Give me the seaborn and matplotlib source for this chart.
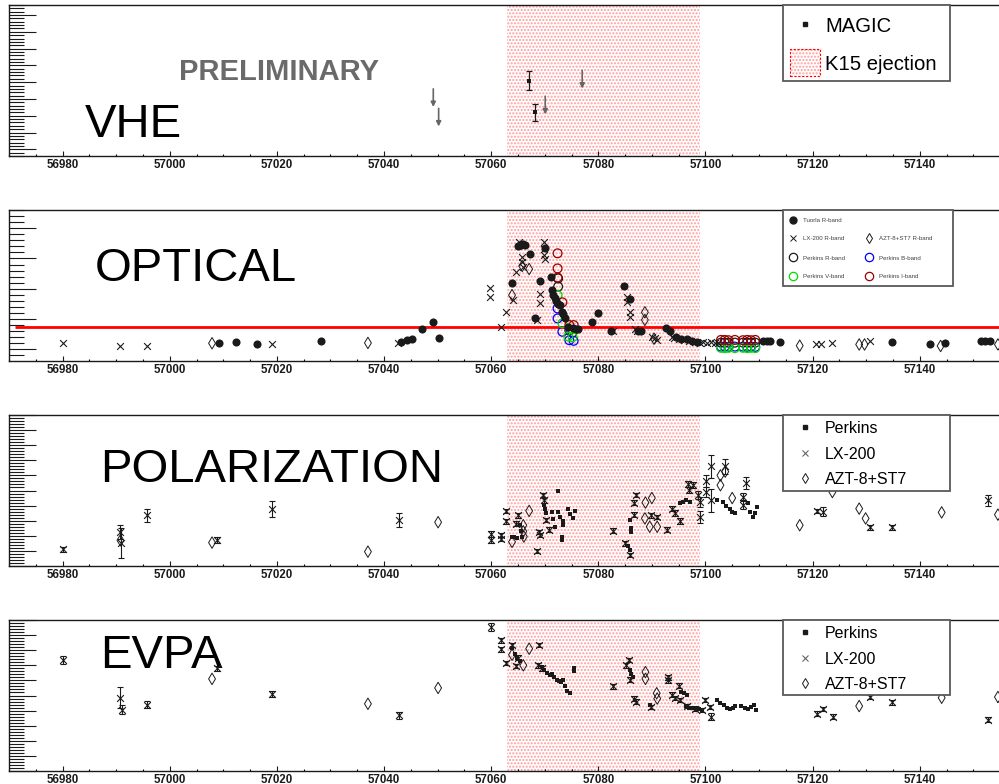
import numpy as np
import matplotlib
matplotlib.use("Agg")
import matplotlib.pyplot as plt
import seaborn as sns
from matplotlib.patches import Rectangle
from matplotlib.lines import Line2D
from matplotlib.ticker import MultipleLocator

sns.set_theme(style="white")
plt.rcParams['font.family'] = ['Liberation Sans', 'DejaVu Sans']
plt.rcParams['hatch.linewidth'] = 1.0
plt.rcParams['text.color'] = 'black'
plt.rcParams['xtick.color'] = 'black'
plt.rcParams['ytick.color'] = 'black'
plt.rcParams['axes.edgecolor'] = 'black'

# ---------------- data ----------------
XMIN, XMAX = 56970, 57154.8
XTICKS = [56980, 57000, 57020, 57040, 57060, 57080, 57100, 57120, 57140]
K15_START, K15_END = 57063, 57099

# VHE (MAGIC)
magic_mjd = [57067.1, 57068.2]
magic_flux = [4.1, 2.2]
magic_err = [0.57, 0.52]
ul_mjd = [57049.2, 57050.2, 57070.1, 57077.0]
ul_flux = [3.6, 2.44, 3.16, 4.7]

# OPTICAL
tuorla_mjd = [57009.2, 57012.3, 57016.3, 57028.2, 57043.1, 57044.2, 57045.2, 57047.1, 57049.2, 57050.2,
              57063.9, 57065.0, 57065.3, 57065.6, 57066.0, 57066.3, 57067.2, 57068.1, 57069.2, 57070.0,
              57071.1, 57071.4, 57071.6, 57071.9, 57072.2, 57072.5, 57072.8, 57073.2, 57073.5, 57073.7,
              57074.3, 57075.3, 57075.8, 57076.3, 57078.9, 57080.0, 57082.3, 57084.8, 57085.9, 57087.5,
              57088.0, 57092.7, 57093.3, 57094.5, 57095.5, 57096.5, 57097.5, 57098.5, 57110.8, 57111.4,
              57112.0, 57113.9, 57134.9, 57141.9, 57144.8, 57151.5, 57152.2, 57153.1]
tuorla_flux = [0.20, 0.25, 0.16, 0.28, 0.25, 0.31, 0.34, 0.66, 0.91, 0.36,
               2.18, 3.40, 3.45, 3.44, 3.47, 3.45, 3.14, 1.04, 2.26, 3.33,
               2.40, 1.95, 1.80, 1.70, 1.60, 1.50, 1.46, 1.24, 1.15, 1.05,
               0.75, 0.72, 0.68, 0.66, 0.91, 1.19, 0.60, 2.10, 1.66, 0.62,
               0.60, 0.69, 0.60, 0.42, 0.35, 0.33, 0.28, 0.25, 0.27, 0.28,
               0.28, 0.23, 0.25, 0.16, 0.20, 0.27, 0.28, 0.27]

lx_opt_mjd = [56980.0, 56990.8, 56995.8, 57019.1, 57042.7, 57059.7, 57059.8, 57061.9, 57062.7, 57064.0,
              57064.7, 57065.2, 57065.8, 57065.8, 57065.9, 57068.6, 57069.1, 57069.1, 57069.8, 57069.8,
              57069.9, 57070.0, 57082.8, 57085.3, 57085.3, 57085.9, 57085.9, 57086.8, 57087.2, 57090.0,
              57090.5, 57091.0, 57093.8, 57094.2, 57095.0, 57096.0, 57097.0, 57098.0, 57099.0, 57099.5,
              57100.3, 57101.0, 57101.8, 57102.4, 57120.7, 57121.5, 57123.7, 57130.7]
lx_opt_flux = [0.20, 0.12, 0.11, 0.16, 0.22, 2.01, 1.72, 0.75, 1.24, 1.63,
               2.54, 3.55, 3.06, 2.89, 2.73, 0.97, 1.81, 1.52, 3.55, 3.30,
               3.10, 2.98, 0.62, 1.74, 1.57, 1.24, 1.08, 0.66, 0.60, 0.42,
               0.36, 0.31, 0.42, 0.38, 0.33, 0.30, 0.27, 0.24, 0.22, 0.25,
               0.22, 0.24, 0.20, 0.22, 0.16, 0.16, 0.20, 0.29]

azt_opt_mjd = [57007.9, 57037.0, 57063.9, 57065.8, 57067.1, 57088.7, 57088.7, 57090.4, 57117.6, 57128.7,
               57129.7, 57143.9, 57154.6]
azt_opt_flux = [0.20, 0.21, 1.79, 2.75, 2.65, 1.22, 0.97, 0.35, 0.12, 0.16,
                0.16, 0.11, 0.16]

perk_R_mjd = [57072.5, 57072.5, 57074.6, 57075.2, 57102.9, 57103.6, 57104.3, 57105.5, 57107.0, 57107.8, 57108.5, 57109.3]
perk_R_flux = [2.34, 2.07, 0.62, 0.55, 0.22, 0.22, 0.22, 0.22, 0.22, 0.22, 0.22, 0.22]
perk_B_mjd = [57072.4, 57072.4, 57073.3, 57074.6, 57075.4, 57102.9, 57103.6, 57104.3, 57105.5, 57107.0, 57107.8, 57108.5, 57109.3]
perk_B_flux = [1.35, 1.02, 0.58, 0.30, 0.28, 0.09, 0.09, 0.08, 0.09, 0.09, 0.08, 0.09, 0.08]
perk_V_mjd = [57072.4, 57073.3, 57074.4, 57075.2, 57102.9, 57103.6, 57104.3, 57105.5, 57107.0, 57107.8, 57108.5, 57109.3]
perk_V_flux = [1.79, 0.86, 0.42, 0.40, 0.05, 0.04, 0.05, 0.04, 0.05, 0.04, 0.05, 0.04]
perk_I_mjd = [57072.4, 57072.4, 57072.4, 57073.3, 57074.6, 57075.4, 57102.9, 57103.6, 57104.3, 57105.5, 57107.0, 57107.8, 57108.5, 57109.3]
perk_I_flux = [3.17, 2.67, 2.37, 1.55, 0.80, 0.80, 0.31, 0.31, 0.30, 0.31, 0.30, 0.31, 0.30, 0.31]

OPT_LEVEL = 0.746
OPT_LINE_START = 56971.1

# POLARIZATION (%)
perk_pol_mjd = [57063.9, 57064.3, 57064.9, 57065.3, 57065.5, 57065.8, 57069.8, 57070.0, 57070.3, 57071.3,
                57071.6, 57071.9, 57072.4, 57072.5, 57072.8, 57073.3, 57073.3, 57073.4, 57073.5, 57074.4,
                57074.8, 57075.2, 57075.6, 57085.6, 57086.0, 57086.0, 57086.1, 57086.2, 57095.2, 57095.8,
                57096.4, 57097.1, 57102.2, 57103.3, 57103.9, 57104.5, 57105.0, 57105.5, 57108.0, 57108.4,
                57108.8, 57109.2, 57109.6]
perk_pol = [3.9, 3.8, 3.7, 5.4, 4.6, 3.9, 8.1, 7.5, 7.0, 7.2,
            6.2, 5.2, 9.9, 7.2, 6.5, 3.9, 3.4, 5.9, 5.4, 7.6,
            6.9, 6.3, 7.3, 2.6, 2.1, 6.1, 5.0, 4.5, 8.3, 8.5,
            8.7, 8.5, 8.7, 8.5, 7.9, 7.5, 7.2, 7.0, 8.3, 7.2,
            6.5, 7.0, 7.8]

lx_pol_mjd = [56980.0, 56990.8, 56990.9, 56995.8, 57008.9, 57019.1, 57042.8, 57059.9, 57060.0, 57061.9,
              57061.9, 57062.7, 57062.7, 57064.7, 57065.0, 57068.6, 57069.0, 57069.1, 57069.7, 57069.8,
              57070.3, 57070.8, 57082.8, 57085.0, 57085.9, 57086.7, 57086.7, 57087.1, 57089.9, 57090.9,
              57092.9, 57093.7, 57094.3, 57095.2, 57096.8, 57096.9, 57097.7, 57098.6, 57099.0, 57099.0,
              57100.1, 57100.2, 57101.1, 57101.1, 57103.7, 57107.0, 57107.0, 57107.6, 57120.8, 57122.0,
              57130.8, 57134.8, 57152.8]
lx_pol = [2.2, 4.5, 3.0, 6.7, 3.5, 7.6, 6.1, 4.3, 3.4, 4.1,
          3.6, 7.3, 5.9, 5.6, 6.7, 2.0, 4.5, 4.1, 9.4, 8.7,
          6.1, 4.8, 4.7, 3.0, 1.45, 8.4, 6.8, 9.4, 6.7, 6.5,
          4.8, 7.6, 7.0, 5.9, 10.8, 10.1, 10.7, 9.4, 8.5, 6.5,
          11.2, 9.8, 13.2, 8.7, 13.2, 9.2, 8.1, 11.0, 7.3, 7.2,
          5.1, 5.1, 8.7]
lx_pol_err = [0.35, 0.9, 2.0, 0.9, 0.4, 1.05, 0.9, 0.4, 0.4, 0.3,
              0.3, 0.3, 0.3, 0.3, 0.3, 0.3, 0.3, 0.3, 0.3, 0.3,
              0.3, 0.3, 0.3, 0.3, 0.3, 0.3, 0.3, 0.3, 0.3, 0.3,
              0.3, 0.3, 0.4, 0.4, 0.4, 0.4, 0.4, 0.5, 0.7, 0.8,
              0.8, 0.6, 1.5, 1.5, 1.0, 0.5, 0.5, 0.8, 0.3, 0.6,
              0.3, 0.3, 0.75]

azt_pol_mjd = [56990.8, 57007.9, 57037.0, 57050.1, 57063.9, 57066.0, 57066.0, 57066.1, 57067.1, 57088.8,
               57088.7, 57089.6, 57090.0, 57091.0, 57102.8, 57102.8, 57103.7, 57105.0, 57117.6, 57123.7,
               57128.7, 57129.9, 57144.1, 57154.6]
azt_pol = [3.4, 3.1, 1.9, 5.8, 3.2, 5.4, 4.6, 3.9, 7.3, 8.4,
           6.3, 5.2, 9.0, 5.2, 12.0, 10.7, 12.5, 9.0, 5.4, 9.8,
           7.6, 6.3, 7.1, 6.8]

# EVPA (deg)
perk_evpa_mjd = [57063.9, 57064.4, 57064.8, 57065.3, 57069.4, 57069.9, 57070.4, 57070.9, 57071.3, 57071.8,
                 57072.3, 57072.7, 57073.1, 57073.4, 57073.8, 57074.2, 57074.7, 57075.4, 57075.4, 57085.9,
                 57086.2, 57086.4, 57089.7, 57095.5, 57096.0, 57096.5, 57096.4, 57097.0, 57097.6, 57098.2,
                 57098.8, 57099.3, 57102.2, 57102.8, 57103.4, 57104.0, 57104.6, 57105.2, 57105.5, 57106.7,
                 57107.3, 57107.9, 57108.5, 57109.0, 57109.5]
perk_evpa = [163, 155, 150, 146, 138, 134, 130, 127, 129, 125,
             121, 119, 118, 120, 112, 106, 103, 136, 132, 134,
             129, 125, 87, 105, 103, 101, 86, 84, 83, 84,
             82, 81, 94, 90, 87, 84, 82, 84, 86, 86,
             84, 82, 85, 88, 81]

lx_evpa_mjd = [56980.0, 56990.8, 56991.0, 56995.8, 57008.9, 57019.1, 57042.8, 57059.9, 57061.9, 57061.9,
               57062.7, 57063.9, 57064.7, 57065.0, 57068.9, 57068.8, 57069.5, 57082.8, 57085.1, 57085.7,
               57085.9, 57086.6, 57087.1, 57089.8, 57093.0, 57093.1, 57093.7, 57094.3, 57095.0, 57095.2,
               57096.5, 57098.0, 57099.3, 57100.0, 57100.8, 57101.0, 57120.8, 57122.0, 57123.8, 57130.8,
               57134.8, 57152.8]
lx_evpa = [147, 97, 81, 88, 136, 102, 74, 191, 173, 161,
           143, 167, 139, 150, 167, 140, 136, 112, 140, 147,
           121, 96, 92, 85, 124, 120, 101, 97, 113, 94,
           86, 82, 81, 94, 85, 72, 76, 82, 72, 98,
           91, 68]
lx_evpa_err = [5.3, 14, 6, 4.4, 3, 4.6, 4.8, 5.3, 3, 3,
               3, 3, 3, 3, 3, 3, 3, 3, 3, 3,
               3, 3, 3, 3, 3, 3, 3, 3, 3, 3,
               3, 3, 3, 3, 3, 4.4, 3, 3, 3, 3,
               3, 3]

azt_evpa_mjd = [57007.9, 57037.0, 57050.1, 57063.9, 57066.0, 57067.1, 57088.8, 57088.8, 57090.9, 57091.0,
                57128.7, 57144.1, 57154.6]
azt_evpa = [122, 89, 110, 154, 140, 162, 131, 122, 103, 96,
            86, 97, 98]

# ---------------- figure ----------------
W, H = 999, 784
fig = plt.figure(figsize=(W / 100, H / 100), dpi=100)
fig.patch.set_facecolor('white')


def fx(px):
    return px / W


def fy(py):
    return 1 - py / H


def make_ax(top, bottom):
    return fig.add_axes([fx(9), fy(bottom), 1 - fx(9), (bottom - top) / H])


def style_ax(ax, ylim, ymaj):
    ax.set_facecolor('white')
    ax.set_xlim(XMIN, XMAX)
    ax.set_ylim(*ylim)
    ax.set_xticks(XTICKS, [str(t) for t in XTICKS], fontweight='bold', fontsize=8.3, color='black')
    ax.xaxis.set_minor_locator(MultipleLocator(5))
    ax.yaxis.set_major_locator(MultipleLocator(ymaj))
    ax.yaxis.set_minor_locator(MultipleLocator(ymaj / 5))
    ax.tick_params(axis='x', which='major', direction='in', length=3.6, width=0.8,
                   colors='k', pad=2.0, bottom=True)
    ax.tick_params(axis='x', which='minor', direction='in', length=1.8, width=0.8, bottom=True)
    ax.tick_params(axis='y', which='major', direction='in', length=19.4, width=0.8,
                   labelleft=False, left=True, colors='k')
    ax.tick_params(axis='y', which='minor', direction='in', length=10.8, width=0.8, left=True, colors='k')
    ax.spines['right'].set_visible(False)
    for s in ['left', 'top', 'bottom']:
        ax.spines[s].set_linewidth(1.0)
        ax.spines[s].set_color('0.1')
    ax.axvspan(K15_START, K15_END, facecolor='none', edgecolor='#ff9a9a', hatch='.....',
               linewidth=0, zorder=0)
    ax.set_xlabel('')
    ax.set_ylabel('')


def open_markers(ax, x, y, marker, color, s, lw=0.9):
    ax.scatter(x, y, marker=marker, s=s, facecolors='none', edgecolors=color,
               linewidths=lw, zorder=3)


# ---- VHE ----
ax1 = make_ax(5, 156)
style_ax(ax1, (-0.4, 8.6), 1)
ax1.errorbar(magic_mjd, magic_flux, yerr=magic_err, fmt='none', ecolor='k',
             elinewidth=0.9, capsize=2.2, capthick=0.9, zorder=3)
sns.scatterplot(x=magic_mjd, y=magic_flux, ax=ax1, marker='s', s=12, color='k',
                edgecolor='k', linewidth=0, zorder=4)
UL_LEN = 1.08
for d, v in zip(ul_mjd, ul_flux):
    ax1.annotate('', xy=(d, v - UL_LEN), xytext=(d, v),
                 arrowprops=dict(arrowstyle='-|>', color='0.4', lw=1.2,
                                 mutation_scale=7, shrinkA=0, shrinkB=0), zorder=3)
ax1.text(0.0768, 0.127, 'VHE', transform=ax1.transAxes, fontsize=34, va='baseline', ha='left',
         color='black')
ax1.text(0.273, 0.50, 'PRELIMINARY', transform=ax1.transAxes, fontsize=21, fontweight='bold',
         color='#6a6a6a', va='baseline', ha='center')

# ---- OPTICAL ----
ax2 = make_ax(210, 361)
style_ax(ax2, (-0.386, 4.6), 1)
ax2.hlines(OPT_LEVEL, OPT_LINE_START, XMAX, color='red', linewidth=2, zorder=2)
sns.scatterplot(x=tuorla_mjd, y=tuorla_flux, ax=ax2, marker='o', s=34, color='k',
                edgecolor='k', linewidth=0, zorder=4)
sns.scatterplot(x=lx_opt_mjd, y=lx_opt_flux, ax=ax2, marker='x', s=24, color='k',
                linewidth=0.8, zorder=4)
open_markers(ax2, azt_opt_mjd, azt_opt_flux, 'd', 'k', 34, 0.7)
open_markers(ax2, perk_R_mjd, perk_R_flux, 'o', 'k', 40)
open_markers(ax2, perk_B_mjd, perk_B_flux, 'o', 'blue', 40)
open_markers(ax2, perk_V_mjd, perk_V_flux, 'o', '#00dd00', 40)
open_markers(ax2, perk_I_mjd, perk_I_flux, 'o', '#990000', 40)
ax2.text(0.0869, 0.53, 'OPTICAL', transform=ax2.transAxes, fontsize=34, va='baseline', ha='left',
         color='black')

# ---- POLARIZATION ----
ax3 = make_ax(415, 566)
style_ax(ax3, (0, 20), 2)
ax3.errorbar(lx_pol_mjd, lx_pol, yerr=lx_pol_err, fmt='none', ecolor='k',
             elinewidth=0.8, capsize=2.0, capthick=0.8, zorder=3)
sns.scatterplot(x=lx_pol_mjd, y=lx_pol, ax=ax3, marker='x', s=24, color='k',
                linewidth=0.8, zorder=4)
sns.scatterplot(x=perk_pol_mjd, y=perk_pol, ax=ax3, marker='s', s=9, color='k',
                edgecolor='k', linewidth=0, zorder=4)
open_markers(ax3, azt_pol_mjd, azt_pol, 'd', 'k', 34, 0.7)
ax3.text(0.0919, 0.558, 'POLARIZATION', transform=ax3.transAxes, fontsize=34,
         va='baseline', ha='left', color='black')

# ---- EVPA ----
ax4 = make_ax(620, 771)
style_ax(ax4, (0, 200), 20)
ax4.errorbar(lx_evpa_mjd, lx_evpa, yerr=lx_evpa_err, fmt='none', ecolor='k',
             elinewidth=0.8, capsize=2.0, capthick=0.8, zorder=3)
sns.scatterplot(x=lx_evpa_mjd, y=lx_evpa, ax=ax4, marker='x', s=24, color='k',
                linewidth=0.8, zorder=4)
sns.scatterplot(x=perk_evpa_mjd, y=perk_evpa, ax=ax4, marker='s', s=9, color='k',
                edgecolor='k', linewidth=0, zorder=4)
open_markers(ax4, azt_evpa_mjd, azt_evpa, 'd', 'k', 34, 0.7)
ax4.text(0.0919, 0.68, 'EVPA', transform=ax4.transAxes, fontsize=34, va='baseline', ha='left',
         color='black')


# ---------------- legends (drawn in figure pixels) ----------------
def legend_box(x0, y0, x1, y1):
    fig.add_artist(Rectangle((fx(x0), fy(y1)), (x1 - x0) / W, (y1 - y0) / H,
                             transform=fig.transFigure, facecolor='white',
                             edgecolor='0.35', linewidth=1.3, zorder=5))


def legend_marker(x, y, **kw):
    fig.add_artist(Line2D([fx(x)], [fy(y)], transform=fig.transFigure,
                          linestyle='none', zorder=6, **kw))


def legend_text(x, y, s, size, color='black'):
    fig.text(fx(x), fy(y), s, fontsize=size, va='baseline', ha='left', zorder=6, color=color)


# VHE legend
legend_box(783, 5, 950, 81)
legend_marker(805, 24.3, marker='s', markersize=3.5, color='k')
legend_text(825, 31.6, 'MAGIC', 14.6)
fig.add_artist(Rectangle((fx(790), fy(76)), 30 / W, 26.7 / H, transform=fig.transFigure,
                         facecolor='none', edgecolor='#ff9a9a', hatch='.....', linewidth=0, zorder=6))
fig.add_artist(Rectangle((fx(790), fy(76)), 30 / W, 26.7 / H, transform=fig.transFigure,
                         facecolor='none', edgecolor='red', linestyle=(0, (2, 1.5)),
                         linewidth=0.8, zorder=6))
legend_text(825, 70.5, 'K15 ejection', 14.6)

# OPTICAL legend
legend_box(783, 210, 953, 286)
legend_marker(793.3, 220, marker='o', markersize=5, color='k')
legend_text(803, 222.2, 'Tuorla R-band', 4.4, '0.25')
legend_marker(793.3, 238.3, marker='x', markersize=5, color='k', markeredgewidth=0.7)
legend_text(803, 240.5, 'LX-200 R-band', 4.4, '0.25')
legend_marker(869, 238.3, marker='d', markersize=5.5, markerfacecolor='none',
              markeredgecolor='k', markeredgewidth=0.7)
legend_text(879, 240.5, 'AZT-8+ST7 R-band', 4.4, '0.25')
legend_marker(793.3, 257.3, marker='o', markersize=6, markerfacecolor='none',
              markeredgecolor='k', markeredgewidth=0.9)
legend_text(803, 259.5, 'Perkins R-band', 4.4, '0.25')
legend_marker(869, 257.3, marker='o', markersize=6, markerfacecolor='none',
              markeredgecolor='blue', markeredgewidth=0.9)
legend_text(879, 259.5, 'Perkins B-band', 4.4, '0.25')
legend_marker(793.3, 275.7, marker='o', markersize=6, markerfacecolor='none',
              markeredgecolor='#00dd00', markeredgewidth=0.9)
legend_text(803, 277.9, 'Perkins V-band', 4.4, '0.25')
legend_marker(869, 275.7, marker='o', markersize=6, markerfacecolor='none',
              markeredgecolor='#990000', markeredgewidth=0.9)
legend_text(879, 277.9, 'Perkins I-band', 4.4, '0.25')


def pol_legend(top, bottom, centers):
    legend_box(783, top, 950, bottom)
    legend_marker(805, centers[0], marker='s', markersize=2.5, color='k')
    legend_text(825, centers[0] + 6, 'Perkins', 11.5)
    legend_marker(805, centers[1], marker='x', markersize=5, color='0.4', markeredgewidth=0.8)
    legend_text(825, centers[1] + 6, 'LX-200', 11.5)
    legend_marker(805, centers[2], marker='d', markersize=5.5, markerfacecolor='none',
                  markeredgecolor='k', markeredgewidth=0.7)
    legend_text(825, centers[2] + 6, 'AZT-8+ST7', 11.5)


pol_legend(415, 491, [427.3, 452.7, 478.3])
pol_legend(620, 695, [632.3, 657.7, 683.3])

fig.savefig('out.png', dpi=100, facecolor='white')
